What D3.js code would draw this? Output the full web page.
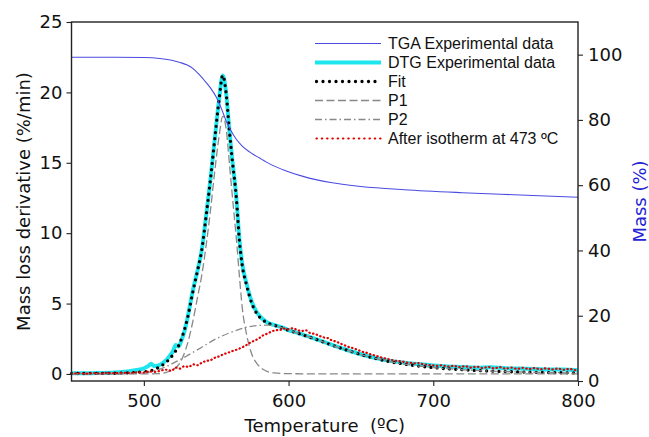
<!DOCTYPE html>
<html>
<head>
<meta charset="utf-8">
<script src="https://cdn.jsdelivr.net/npm/d3@7"></script>
<style>
  body { margin: 0; background: #fff; }
</style>
</head>
<body>
<div id="chart"></div>
<script>
// TGA curve (right axis, mass %)
var tgaT = [450, 480, 500, 511, 520, 525, 530, 534, 538, 542, 546, 550, 554, 557, 560, 564, 568, 573, 580, 588, 597, 610, 629, 650, 680, 720, 760, 800];
var tgaMass = [99.2, 99.2, 99.1, 98.8, 98.2, 97.6, 96.8, 95.7, 94.0, 92.0, 89.8, 87.0, 83.0, 79.5, 76.8, 74.0, 72.0, 70.2, 68.3, 66.3, 64.6, 62.7, 60.8, 59.6, 58.6, 57.7, 57.0, 56.3];

// DTG experimental (left axis, %/min)
var dtgT = [450, 460, 470, 480, 490, 495, 500, 503, 505, 507, 510, 514, 518, 520, 522, 524, 526, 528, 531, 534, 537, 540, 543, 546, 549, 552, 554.5, 557, 559, 561, 564, 566, 568, 571, 575, 578, 582, 586, 590, 595, 600, 605, 610, 620, 630, 640, 650, 660, 670, 680, 690, 700, 710, 720, 730, 740, 750, 760, 770, 780, 790, 800];
var dtgVal = [0.05, 0.05, 0.07, 0.1, 0.2, 0.28, 0.4, 0.55, 0.72, 0.56, 0.6, 0.85, 1.3, 1.6, 2.05, 1.95, 2.4, 3.0, 4.4, 6.0, 7.3, 8.8, 11.2, 13.8, 16.7, 19.5, 21.2, 19.8, 17.4, 15.3, 12.4, 9.6, 7.8, 6.4, 5.0, 4.4, 3.9, 3.62, 3.48, 3.33, 3.12, 2.96, 2.8, 2.44, 2.07, 1.72, 1.4, 1.13, 0.93, 0.8, 0.7, 0.6, 0.53, 0.5, 0.45, 0.48, 0.4, 0.38, 0.36, 0.31, 0.32, 0.26];

// Fit
var fitT = [450, 480, 500, 510, 515, 520, 524, 527, 530, 534, 537, 540, 543, 546, 549, 552, 554.5, 557, 559, 561, 564, 566, 568, 571, 575, 578, 582, 586, 590, 595, 600, 605, 610, 620, 630, 640, 650, 660, 670, 680, 690, 700, 720, 740, 760, 780, 800];
var fitVal = [0.03, 0.05, 0.15, 0.45, 0.8, 1.35, 2.0, 2.8, 3.9, 5.9, 7.3, 8.8, 11.2, 13.8, 16.7, 19.5, 21.2, 19.8, 17.4, 15.3, 12.4, 9.5, 7.7, 6.3, 4.9, 4.3, 3.85, 3.6, 3.46, 3.3, 3.1, 2.94, 2.77, 2.42, 2.05, 1.7, 1.38, 1.1, 0.87, 0.7, 0.56, 0.45, 0.3, 0.2, 0.14, 0.1, 0.07];

// P1 peak
var p1T = [450, 500, 510, 515, 520, 525, 530, 534, 537, 540, 543, 546, 549, 552, 554.5, 557, 559, 561, 564, 566, 568, 571, 575, 578, 582, 586, 590, 600, 650, 700, 800];
var p1Val = [0, 0, 0.02, 0.1, 0.3, 0.8, 2.1, 3.8, 5.4, 7.0, 9.1, 11.6, 14.4, 16.9, 18.3, 17.3, 15.1, 12.8, 9.5, 7.0, 4.7, 2.8, 1.3, 0.75, 0.35, 0.15, 0.07, 0.02, 0, 0, 0];

// P2 peak
var p2T = [450, 480, 490, 500, 510, 520, 530, 540, 550, 560, 570, 580, 586, 590, 595, 600, 605, 610, 620, 630, 640, 650, 660, 670, 680, 690, 700, 720, 740, 760, 780, 800];
var p2Val = [0, 0.01, 0.03, 0.08, 0.3, 0.75, 1.3, 1.9, 2.5, 2.95, 3.3, 3.45, 3.47, 3.44, 3.29, 3.09, 2.93, 2.77, 2.42, 2.05, 1.7, 1.38, 1.1, 0.87, 0.7, 0.56, 0.45, 0.3, 0.2, 0.14, 0.1, 0.07];

// After isotherm at 473 ºC
var isoT = [450, 455, 460, 465, 470, 475, 480, 485, 490, 495, 500, 504, 508, 512, 516, 519, 522, 525, 528, 531, 534, 537, 540, 543, 546, 549, 552, 555, 558, 561, 564, 567, 570, 573, 576, 579, 582, 585, 588, 591, 594, 597, 600, 603, 606, 609, 612, 615, 618, 621, 624, 627, 630, 633, 636, 639, 642, 645, 648, 651, 654, 657, 660, 663, 666, 669, 672, 675, 678, 681, 684, 687, 690, 693, 696, 699, 702, 706, 710, 714, 718, 722, 726, 730, 734, 738, 742, 746, 750, 754, 758, 762, 766, 770, 774, 778, 782, 786, 790, 794, 798, 800];
var isoVal = [0.03, 0.05, 0.02, 0.06, 0.04, 0.08, 0.05, 0.09, 0.07, 0.12, 0.1, 0.18, 0.15, 0.25, 0.3, 0.22, 0.45, 0.38, 0.55, 0.5, 0.68, 0.62, 0.8, 0.92, 0.98, 1.15, 1.25, 1.4, 1.5, 1.62, 1.72, 1.85, 2.0, 2.2, 2.35, 2.5, 2.72, 2.85, 3.0, 3.1, 3.12, 3.22, 3.18, 3.25, 3.12, 3.05, 3.1, 2.9, 2.85, 2.72, 2.6, 2.55, 2.38, 2.3, 2.15, 2.02, 1.9, 1.82, 1.7, 1.58, 1.5, 1.38, 1.3, 1.2, 1.12, 1.05, 0.98, 0.92, 0.9, 0.82, 0.8, 0.75, 0.78, 0.68, 0.65, 0.62, 0.58, 0.62, 0.52, 0.58, 0.48, 0.55, 0.45, 0.52, 0.42, 0.5, 0.4, 0.48, 0.38, 0.45, 0.36, 0.44, 0.35, 0.42, 0.33, 0.4, 0.32, 0.38, 0.3, 0.36, 0.28, 0.3];

var xTicks = [500, 600, 700, 800];
var yLeftTicks = [0, 5, 10, 15, 20, 25];
var yRightTicks = [0, 20, 40, 60, 80, 100];

var legendNames = ["TGA Experimental data", "DTG Experimental data", "Fit", "P1", "P2", "After isotherm at 473 \u00baC"];

// SVG area
var svgWidth = 649;
var svgHeight = 437;

var margin = { top: 22, right: 71, bottom: 56, left: 71.5 };
var chartWidth = svgWidth - margin.left - margin.right;
var chartHeight = svgHeight - margin.top - margin.bottom;

var svg = d3.select("#chart")
  .append("svg")
  .attr("width", svgWidth)
  .attr("height", svgHeight)
  .style("background", "#fff")
  .style("font-family", "DejaVu Sans, sans-serif");

var chartGroup = svg.append("g")
  .attr("transform", `translate(${margin.left}, ${margin.top})`);

var xScale = d3.scaleLinear().domain([450, 800]).range([0, chartWidth]);
var yLeft = d3.scaleLinear().domain([-0.5, 25]).range([chartHeight, 0]);
var yRight = d3.scaleLinear().domain([0, 110]).range([chartHeight, 0]);

function pairs(ts, vs) {
  return ts.map((t, i) => [t, vs[i]]);
}

var leftLine = d3.line()
  .x(d => xScale(d[0]))
  .y(d => yLeft(d[1]))
  .curve(d3.curveMonotoneX);

var rightLine = d3.line()
  .x(d => xScale(d[0]))
  .y(d => yRight(d[1]))
  .curve(d3.curveMonotoneX);

var plot = chartGroup.append("g");

// DTG experimental
plot.append("path")
  .attr("d", leftLine(pairs(dtgT, dtgVal)))
  .attr("fill", "none")
  .attr("stroke", "#1ee6ee")
  .attr("stroke-width", 4);

// Fit
plot.append("path")
  .attr("d", leftLine(pairs(fitT, fitVal)))
  .attr("fill", "none")
  .attr("stroke", "#000")
  .attr("stroke-width", 3.3)
  .attr("stroke-linecap", "round")
  .attr("stroke-dasharray", "0,6.2");

// P1
plot.append("path")
  .attr("d", leftLine(pairs(p1T, p1Val)))
  .attr("fill", "none")
  .attr("stroke", "#888")
  .attr("stroke-width", 1.3)
  .attr("stroke-dasharray", "8,3.5");

// P2
plot.append("path")
  .attr("d", leftLine(pairs(p2T, p2Val)))
  .attr("fill", "none")
  .attr("stroke", "#888")
  .attr("stroke-width", 1.3)
  .attr("stroke-dasharray", "7,3,1.5,3");

// After isotherm
plot.append("path")
  .attr("d", leftLine(pairs(isoT, isoVal)))
  .attr("fill", "none")
  .attr("stroke", "#e00000")
  .attr("stroke-width", 2.2)
  .attr("stroke-linecap", "round")
  .attr("stroke-dasharray", "0.4,3.4");

// TGA
plot.append("path")
  .attr("d", rightLine(pairs(tgaT, tgaMass)))
  .attr("fill", "none")
  .attr("stroke", "#4b4be0")
  .attr("stroke-width", 1.1);

// axes
var bottomAxis = chartGroup.append("g")
  .attr("transform", `translate(0, ${chartHeight})`)
  .call(d3.axisBottom(xScale).tickValues(xTicks).tickSize(5).tickPadding(8));

var leftAxis = chartGroup.append("g")
  .call(d3.axisLeft(yLeft).tickValues(yLeftTicks).tickSize(5).tickPadding(4));

var rightAxis = chartGroup.append("g")
  .attr("transform", `translate(${chartWidth}, 0)`)
  .call(d3.axisRight(yRight).tickValues(yRightTicks).tickSize(5).tickPadding(5));

[bottomAxis, leftAxis, rightAxis].forEach(function(ax) {
  ax.select(".domain").remove();
  ax.selectAll("line").attr("stroke", "#222").attr("stroke-width", 1.1);
  ax.selectAll("text")
    .attr("font-family", "DejaVu Sans")
    .attr("font-size", "18px")
    .attr("fill", "#111");
});

// frame
chartGroup.append("rect")
  .attr("width", chartWidth)
  .attr("height", chartHeight)
  .attr("fill", "none")
  .attr("stroke", "#222")
  .attr("stroke-width", 1.4);

// axis labels
svg.append("text")
  .attr("x", margin.left + chartWidth / 2)
  .attr("y", 432)
  .attr("text-anchor", "middle")
  .attr("font-size", "18px")
  .attr("fill", "#111")
  .style("white-space", "pre")
  .text("Temperature  (\u00baC)");

svg.append("text")
  .attr("transform", `translate(30, ${margin.top + chartHeight / 2}) rotate(-90)`)
  .attr("text-anchor", "middle")
  .attr("font-size", "18px")
  .attr("fill", "#111")
  .text("Mass loss derivative (%/min)");

svg.append("text")
  .attr("transform", `translate(646, ${margin.top + chartHeight / 2}) rotate(-90)`)
  .attr("text-anchor", "middle")
  .attr("font-size", "18px")
  .attr("fill", "#2424d4")
  .text("Mass (%)");

// legend
var legendStyles = [
  { stroke: "#4b4be0", width: 1.1, dash: null, cap: "butt" },
  { stroke: "#1ee6ee", width: 4, dash: null, cap: "butt" },
  { stroke: "#000", width: 3.3, dash: "0,6.5", cap: "round" },
  { stroke: "#888", width: 1.3, dash: "8,3.5", cap: "butt" },
  { stroke: "#888", width: 1.3, dash: "7,3,1.5,3", cap: "butt" },
  { stroke: "#e00000", width: 2.2, dash: "0.4,4.9", cap: "round" }
];

var legend = svg.append("g").attr("transform", "translate(315, 43.5)");

legendNames.forEach(function(name, i) {
  var row = legend.append("g").attr("transform", `translate(0, ${i * 19})`);
  var st = legendStyles[i];
  row.append("line")
    .attr("x1", st.cap === "round" ? 1.5 : 0)
    .attr("x2", 66)
    .attr("y1", 0).attr("y2", 0)
    .attr("stroke", st.stroke)
    .attr("stroke-width", st.width)
    .attr("stroke-linecap", st.cap)
    .attr("stroke-dasharray", st.dash);
  row.append("text")
    .attr("x", 73)
    .attr("y", 0)
    .attr("dy", "0.36em")
    .style("font-family", "'Liberation Sans', Arial, sans-serif")
    .style("font-size", "16px")
    .attr("fill", "#111")
    .text(name);
});
</script>
</body>
</html>
